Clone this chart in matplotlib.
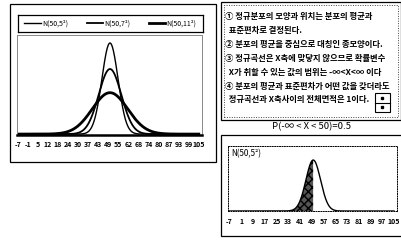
import numpy as np
import matplotlib
matplotlib.use("Agg")
import matplotlib.pyplot as plt
from matplotlib.patches import Rectangle
from matplotlib.lines import Line2D

# Data
means = [50, 50, 50]
sds = [5, 7, 11]
curve_labels = ["N(50,5²)", "N(50,7²)", "N(50,11²)"]
left_ticks = ["-7", "-1", "5", "12", "18", "24", "30", "37", "43", "49",
              "55", "62", "68", "74", "80", "87", "93", "99", "105"]
right_ticks = ["-7", "1", "9", "17", "25", "33", "41", "49", "57", "65",
               "73", "81", "89", "97", "105"]
x_range = [-7, 105]
right_mean = 50
right_sd = 5
right_label = "N(50,5²)"
shade_to = 50
prob_title = "P(-∞ < X < 50)=0.5"
notes = [
    "① 정규분포의 모양과 위치는 분포의 평균과",
    "  표준편차로 결정된다.",
    "② 분포의 평균을 중심으로 대칭인 종모양이다.",
    "③ 정규곡선은 X축에 맞닿지 않으므로 확률변수",
    "  X가 취할 수 있는 값의 범위는 -∞<X<∞ 이다",
    "④ 분포의 평균과 표준편차가 어떤 값을 갖더라도",
    "  정규곡선과 X축사이의 전체면적은 1이다.",
]

plt.rcParams["font.family"] = ["Noto Sans CJK KR", "DejaVu Sans"]

W, H = 402, 241


def rect(x0, y0, x1, y1):
    # pixel box (top-left origin) -> figure fraction
    return [x0 / W, 1 - y1 / H, (x1 - x0) / W, (y1 - y0) / H]


def norm_pdf(x, m, s):
    return np.exp(-0.5 * ((x - m) / s) ** 2) / (s * np.sqrt(2 * np.pi))


def frame(fig, x0, y0, x1, y1, **kw):
    r = Rectangle((x0 / W, 1 - y1 / H), (x1 - x0) / W, (y1 - y0) / H,
                  transform=fig.transFigure, fill=False, **kw)
    fig.patches.append(r)


fig = plt.figure(figsize=(W / 100, H / 100), dpi=100, facecolor="white")

# Outer boxes
frame(fig, 10, 4, 216, 162, edgecolor="black", lw=0.9)
frame(fig, 221, 2, 401, 120, edgecolor="black", lw=0.9)
frame(fig, 224, 5, 398, 117, edgecolor="#444444", lw=0.7, ls=(0, (1, 1.5)))
frame(fig, 221, 135, 402, 236, edgecolor="black", lw=0.9)

x = np.linspace(x_range[0], x_range[1], 800)

# Left panel: three normal curves
ax = fig.add_axes(rect(17, 35, 202, 135))
widths = [1.0, 1.3, 2.0]
handles = []
for m, s, lw, lab in zip(means, sds, widths, curve_labels):
    line, = ax.plot(x, norm_pdf(x, m, s), color="black", lw=lw, label=lab)
    handles.append(line)
ax.set_xlim(-7.6, 107)
ax.set_ylim(-0.0008, 0.0868)
ax.set_xticks(np.linspace(x_range[0], x_range[1], len(left_ticks)))
ax.set_xticklabels(left_ticks, fontsize=5, fontweight="bold")
ax.set_yticks([])
ax.tick_params(axis="x", length=0, pad=4)
for side in ["left", "top", "right"]:
    ax.spines[side].set_color("#888888")
    ax.spines[side].set_linewidth(0.7)
ax.spines["bottom"].set_linewidth(1.8)

# Legend box
lax = fig.add_axes(rect(18, 15, 203, 32))
lax.set_xticks([])
lax.set_yticks([])
for sp in lax.spines.values():
    sp.set_linewidth(0.9)
lax.legend(handles=[Line2D([], [], color="black", lw=h.get_linewidth())
                    for h in handles],
           labels=curve_labels, loc="center", ncol=3, frameon=False,
           fontsize=5, handlelength=2.4, handletextpad=0.2,
           columnspacing=2.6, borderpad=0)

# Notes text
for i, t in enumerate(notes):
    fig.text(225 / W, 1 - (17 + i * 13.8) / H, t, fontsize=6.0,
             fontweight="bold", va="center", ha="left")

# little page icon
frame(fig, 375, 93, 390, 112, edgecolor="black", lw=0.8)
fig.lines.append(Line2D([375 / W, 390 / W], [1 - 102.5 / H, 1 - 102.5 / H],
                        transform=fig.transFigure, color="black", lw=0.8))
for yy in [98, 107]:
    fig.lines.append(Line2D([382.5 / W], [1 - yy / H], marker="s", ms=1.5,
                            color="black", transform=fig.transFigure))

# Probability title
fig.text(312 / W, 1 - 127 / H, prob_title, fontsize=6.8, ha="center",
         va="center")

# Bottom right panel: shaded normal curve
bx = fig.add_axes(rect(228, 146, 397, 211))
y = norm_pdf(x, right_mean, right_sd)
bx.plot(x, y, color="black", lw=1.0)
mask = x <= shade_to
bx.fill_between(x[mask], 0, y[mask], facecolor="#555555", edgecolor="black",
                hatch="xxxx", lw=0)
bx.set_xlim(-8, 107)
bx.set_ylim(0, 0.1017)
bx.set_xticks(np.linspace(x_range[0], x_range[1], len(right_ticks)))
bx.set_xticklabels(right_ticks, fontsize=5, fontweight="bold")
bx.set_yticks([])
bx.tick_params(axis="x", length=0, pad=5)
for sp in bx.spines.values():
    sp.set_linestyle((0, (1, 1.5)))
    sp.set_linewidth(0.7)
bx.text(0.02, 0.88, right_label, transform=bx.transAxes, fontsize=5.8,
        ha="left", va="center")

fig.savefig("out.png", dpi=100, facecolor="white")
